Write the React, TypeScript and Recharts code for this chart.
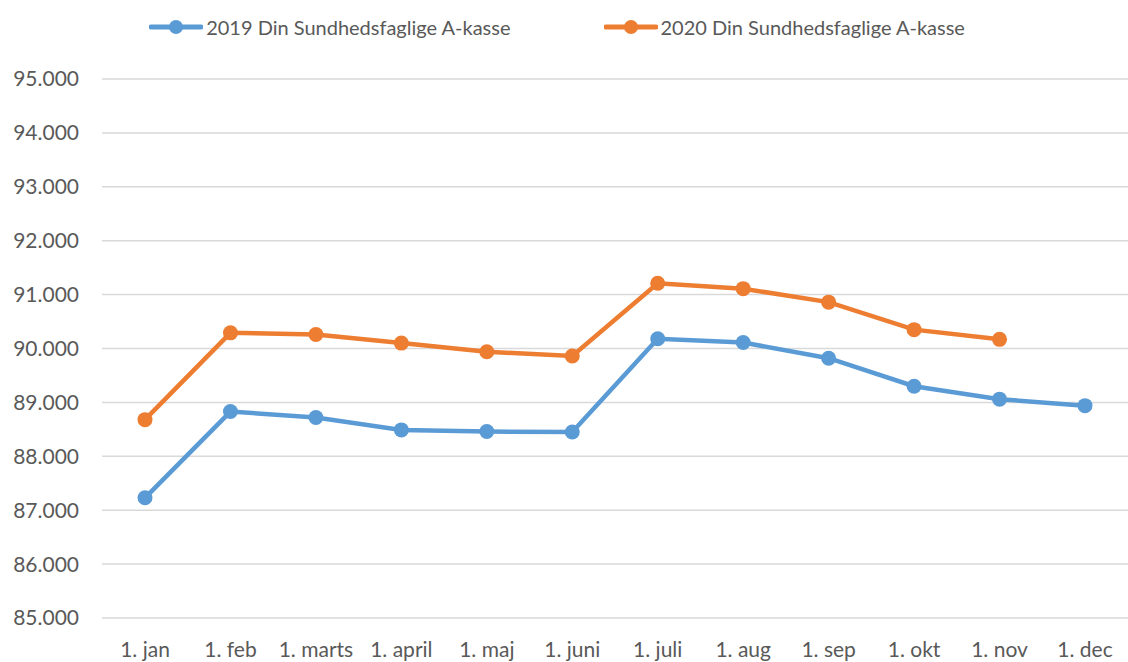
import React from "react";
import { LineChart, Line, XAxis, YAxis, CartesianGrid } from "recharts";

const months = [
  "1. jan",
  "1. feb",
  "1. marts",
  "1. april",
  "1. maj",
  "1. juni",
  "1. juli",
  "1. aug",
  "1. sep",
  "1. okt",
  "1. nov",
  "1. dec",
];

const values2019 = [
  87230, 88830, 88720, 88490, 88460, 88450, 90180, 90110, 89820, 89300, 89060, 88940,
];

const values2020 = [
  88680, 90290, 90260, 90100, 89940, 89860, 91210, 91110, 90860, 90350, 90170, null,
];

const yTicks = [85000, 86000, 87000, 88000, 89000, 90000, 91000, 92000, 93000, 94000, 95000];

const seriesNames = ["2019 Din Sundhedsfaglige A-kasse", "2020 Din Sundhedsfaglige A-kasse"];

const BLUE = "#5B9BD5";
const ORANGE = "#ED7D31";
const TEXT = "#595959";
const FONT = "Lato";

const data = months.map((m, i) => ({
  month: m,
  y2019: values2019[i],
  y2020: values2020[i],
}));

function formatThousands(v: number) {
  return String(Math.round(v)).replace(/\B(?=(\d{3})+(?!\d))/g, ".");
}

// legend drawn by hand: line with a filled dot, as in the Excel original
function ChartLegend() {
  const items = [
    { name: seriesNames[0], color: BLUE },
    { name: seriesNames[1], color: ORANGE },
  ];
  return (
    <div
      style={{
        position: "absolute",
        left: 0,
        top: 14,
        width: 1128,
        display: "flex",
        justifyContent: "center",
        gap: 93,
        fontFamily: FONT,
        fontSize: 20,
        color: TEXT,
        paddingRight: 14,
        boxSizing: "border-box",
      }}
    >
      {items.map((it) => (
        <div key={it.name} style={{ display: "flex", alignItems: "center", height: 26 }}>
          <svg width={54} height={16} style={{ marginRight: 3 }}>
            <line x1={2} y1={8} x2={52} y2={8} stroke={it.color} strokeWidth={5} strokeLinecap="round" />
            <circle cx={27} cy={8} r={7} fill={it.color} />
          </svg>
          <span>{it.name}</span>
        </div>
      ))}
    </div>
  );
}

export default function App() {
  return (
    <div style={{ position: "absolute", left: 0, top: 0, width: 1128, height: 662, background: "#fff" }}>
      <LineChart
        width={1128}
        height={662}
        data={data}
        margin={{ top: 79, right: 0, left: 0, bottom: 14 }}
      >
        <CartesianGrid vertical={false} stroke="#D9D9D9" strokeWidth={1.5} />
        <XAxis
          dataKey="month"
          axisLine={false}
          tickLine={false}
          tickSize={0}
          tickMargin={24}
          height={30}
          interval={0}
          padding={{ left: 43, right: 43 }}
          tick={{ fill: TEXT, fontSize: 21, fontFamily: FONT }}
        />
        <YAxis
          domain={[85000, 95000]}
          ticks={yTicks}
          width={102}
          axisLine={false}
          tickLine={false}
          tickSize={0}
          tickMargin={23}
          tickFormatter={formatThousands}
          tick={{ fill: TEXT, fontSize: 21, fontFamily: FONT }}
        />
        <Line
          type="linear"
          dataKey="y2019"
          name={seriesNames[0]}
          stroke={BLUE}
          strokeWidth={4.5}
          dot={{ r: 7.5, fill: BLUE, stroke: BLUE, strokeWidth: 0 }}
          activeDot={false}
          isAnimationActive={false}
        />
        <Line
          type="linear"
          dataKey="y2020"
          name={seriesNames[1]}
          stroke={ORANGE}
          strokeWidth={4.5}
          dot={{ r: 7.5, fill: ORANGE, stroke: ORANGE, strokeWidth: 0 }}
          activeDot={false}
          isAnimationActive={false}
        />
      </LineChart>
      <ChartLegend />
    </div>
  );
}
